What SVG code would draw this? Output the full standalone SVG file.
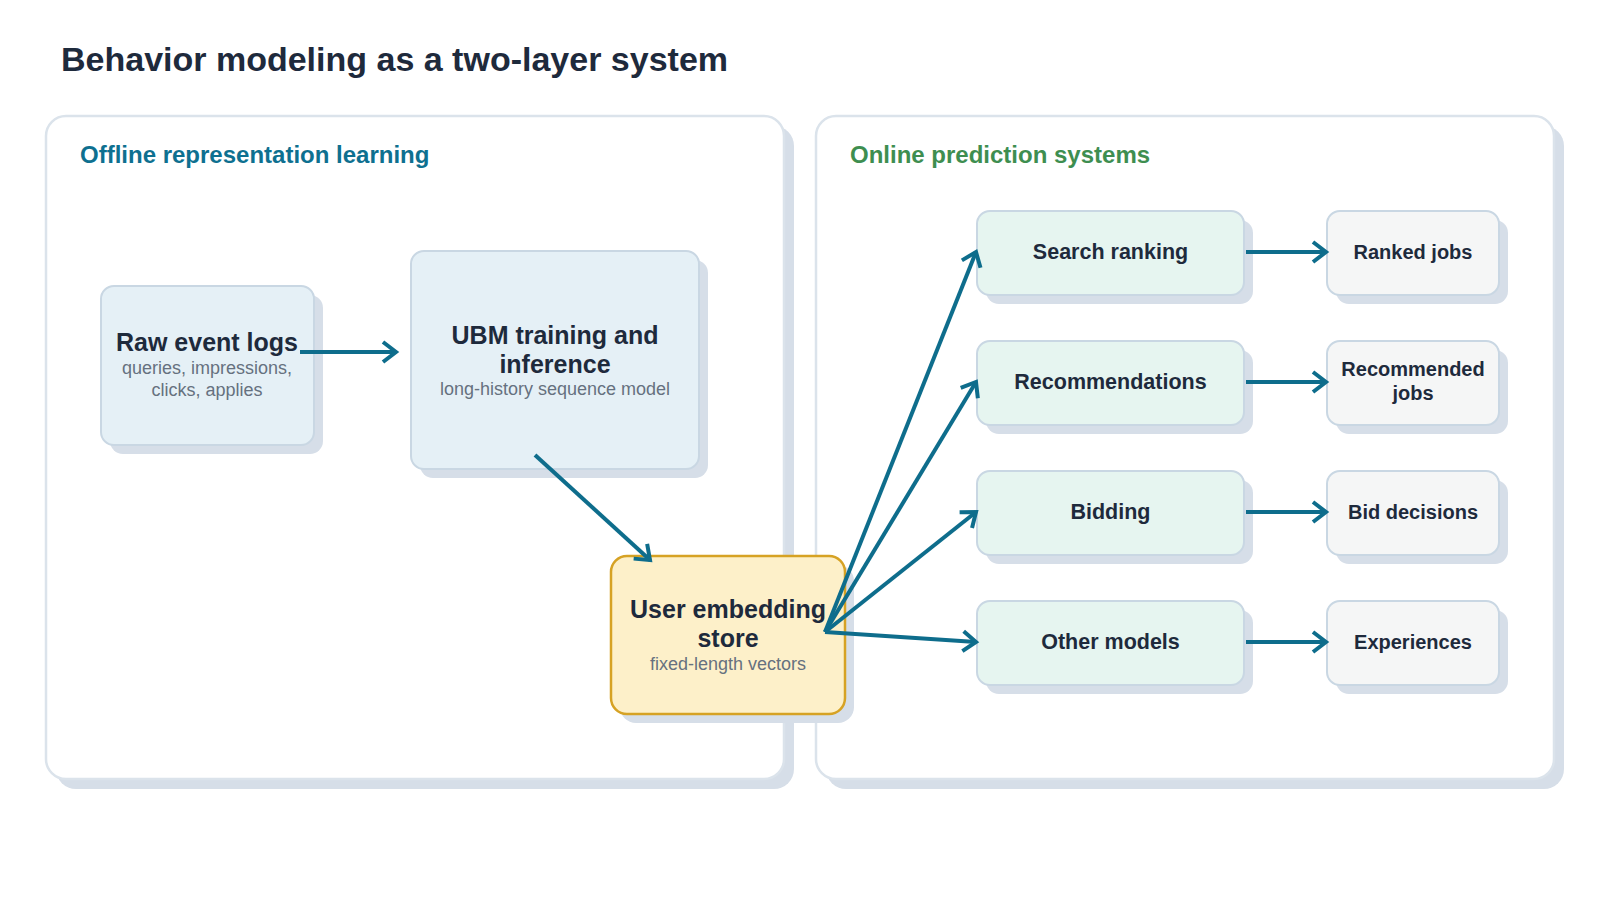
<svg xmlns="http://www.w3.org/2000/svg" width="1600" height="900" viewBox="0 0 1600 900">
  <defs>
    <marker id="arr" viewBox="0 0 20 24" refX="16" refY="12" markerWidth="20" markerHeight="24" markerUnits="userSpaceOnUse" orient="auto">
      <path d="M3,2 L16,12 L3,22" fill="none" stroke="#0e6d8c" stroke-width="4" stroke-linejoin="miter"/>
    </marker>
  </defs>
  <style>
    .title{font-family:"Liberation Sans",Arial,sans-serif;font-weight:bold;font-size:34px;fill:#1e2a3c}
    .sec{font-family:"Liberation Sans",Arial,sans-serif;font-weight:bold;font-size:24px}
    .panel{fill:#ffffff;stroke:#dbe3eb;stroke-width:2.5}
    .pshadow{fill:#d6dee8}
    .shadow{fill:#d6dee8}
    .blue{fill:#e5f0f6;stroke:#c9d7e3;stroke-width:2}
    .mint{fill:#e6f5f0;stroke:#c9d7e3;stroke-width:2}
    .gray{fill:#f5f6f6;stroke:#c9d7e3;stroke-width:2}
    .store{fill:#fdf0c9;stroke:#d6a224;stroke-width:2.5}
    .big{font-family:"Liberation Sans",Arial,sans-serif;font-weight:bold;font-size:25px;fill:#1e2a3c;text-anchor:middle}
    .mid{font-family:"Liberation Sans",Arial,sans-serif;font-weight:bold;font-size:21.5px;fill:#1e2a3c;text-anchor:middle}
    .out{font-family:"Liberation Sans",Arial,sans-serif;font-weight:bold;font-size:20px;fill:#1e2a3c;text-anchor:middle}
    .sub{font-family:"Liberation Sans",Arial,sans-serif;font-size:18px;fill:#66717f;text-anchor:middle}
    .conn line{stroke:#0e6d8c;stroke-width:4;marker-end:url(#arr)}
  </style>
  <rect width="1600" height="900" fill="#ffffff"/>
  <text class="title" x="61" y="71">Behavior modeling as a two-layer system</text>

  <g id="panel-offline">
    <rect class="pshadow" x="56" y="126" width="738" height="663" rx="20"/>
    <rect class="panel" x="46" y="116" width="738" height="663" rx="20"/>
    <text class="sec" x="80" y="163" fill="#0e7090">Offline representation learning</text>
  </g>
  <g id="panel-online">
    <rect class="pshadow" x="826" y="126" width="738" height="663" rx="20"/>
    <rect class="panel" x="816" y="116" width="738" height="663" rx="20"/>
    <text class="sec" x="850" y="163" fill="#3e8e50">Online prediction systems</text>
  </g>

  <g id="raw">
    <rect class="shadow" x="110" y="295" width="213" height="159" rx="13"/>
    <rect class="blue" x="101" y="286" width="213" height="159" rx="13"/>
    <text class="big" x="207" y="351">Raw event logs</text>
    <text class="sub" x="207" y="373.5">queries, impressions,</text>
    <text class="sub" x="207" y="395.5">clicks, applies</text>
  </g>
  <g id="ubm">
    <rect class="shadow" x="420" y="260" width="288" height="218" rx="13"/>
    <rect class="blue" x="411" y="251" width="288" height="218" rx="13"/>
    <text class="big" x="555" y="344">UBM training and</text>
    <text class="big" x="555" y="372.5">inference</text>
    <text class="sub" x="555" y="395">long-history sequence model</text>
  </g>
  <g id="store">
    <rect class="shadow" x="620" y="565" width="234" height="158" rx="16"/>
    <rect class="store" x="611" y="556" width="234" height="158" rx="16"/>
    <text class="big" x="728" y="618">User embedding</text>
    <text class="big" x="728" y="647">store</text>
    <text class="sub" x="728" y="670">fixed-length vectors</text>
  </g>

  <g id="search">
    <rect class="shadow" x="986" y="220" width="267" height="84" rx="13"/>
    <rect class="mint" x="977" y="211" width="267" height="84" rx="13"/>
    <text class="mid" x="1110.5" y="258.5">Search ranking</text>
  </g>
  <g id="recs">
    <rect class="shadow" x="986" y="350" width="267" height="84" rx="13"/>
    <rect class="mint" x="977" y="341" width="267" height="84" rx="13"/>
    <text class="mid" x="1110.5" y="388.5">Recommendations</text>
  </g>
  <g id="bidding">
    <rect class="shadow" x="986" y="480" width="267" height="84" rx="13"/>
    <rect class="mint" x="977" y="471" width="267" height="84" rx="13"/>
    <text class="mid" x="1110.5" y="518.5">Bidding</text>
  </g>
  <g id="other">
    <rect class="shadow" x="986" y="610" width="267" height="84" rx="13"/>
    <rect class="mint" x="977" y="601" width="267" height="84" rx="13"/>
    <text class="mid" x="1110.5" y="648.5">Other models</text>
  </g>

  <g id="ranked">
    <rect class="shadow" x="1336" y="220" width="172" height="84" rx="13"/>
    <rect class="gray" x="1327" y="211" width="172" height="84" rx="13"/>
    <text class="out" x="1413" y="259">Ranked jobs</text>
  </g>
  <g id="recommended">
    <rect class="shadow" x="1336" y="350" width="172" height="84" rx="13"/>
    <rect class="gray" x="1327" y="341" width="172" height="84" rx="13"/>
    <text class="out" x="1413" y="376">Recommended</text>
    <text class="out" x="1413" y="400">jobs</text>
  </g>
  <g id="bid">
    <rect class="shadow" x="1336" y="480" width="172" height="84" rx="13"/>
    <rect class="gray" x="1327" y="471" width="172" height="84" rx="13"/>
    <text class="out" x="1413" y="519">Bid decisions</text>
  </g>
  <g id="experiences">
    <rect class="shadow" x="1336" y="610" width="172" height="84" rx="13"/>
    <rect class="gray" x="1327" y="601" width="172" height="84" rx="13"/>
    <text class="out" x="1413" y="649">Experiences</text>
  </g>

  <g id="connectors" class="conn">
    <line x1="300" y1="352" x2="396" y2="352"/>
    <line x1="535" y1="455" x2="650" y2="560"/>
    <line x1="825" y1="632" x2="976" y2="252"/>
    <line x1="825" y1="632" x2="976" y2="382"/>
    <line x1="825" y1="632" x2="976" y2="512"/>
    <line x1="825" y1="632" x2="976" y2="642"/>
    <line x1="1246" y1="252" x2="1326" y2="252"/>
    <line x1="1246" y1="382" x2="1326" y2="382"/>
    <line x1="1246" y1="512" x2="1326" y2="512"/>
    <line x1="1246" y1="642" x2="1326" y2="642"/>
  </g>
</svg>
